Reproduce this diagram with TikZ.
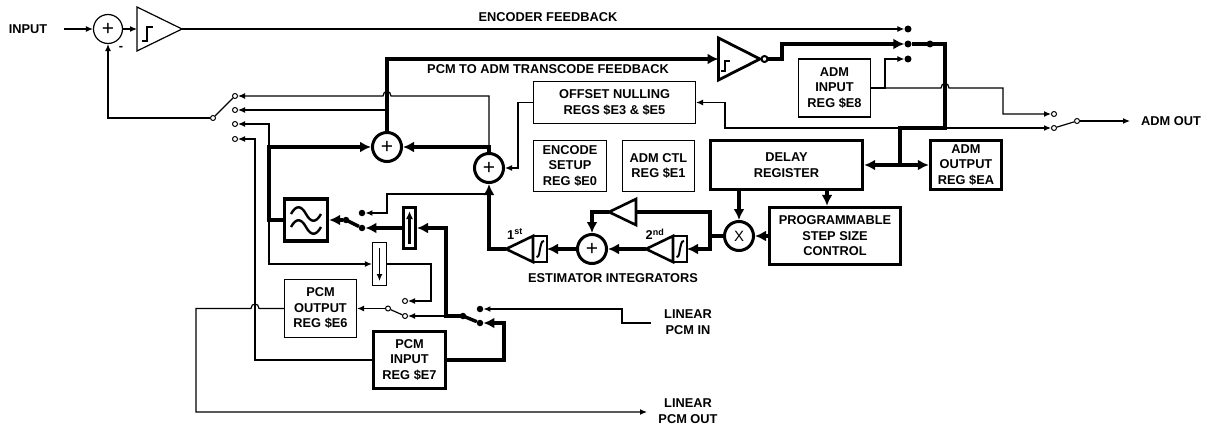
\documentclass[tikz,border=0pt]{standalone}
\usepackage{fontspec}
\setmainfont{Liberation Sans}
\usetikzlibrary{arrows.meta,calc}
\begin{document}
\begin{tikzpicture}[x=1pt,y=-1pt,
  font=\fontsize{12.8}{15.5}\selectfont\bfseries,
  wire/.style={line width=1.2pt},
  bus/.style={line width=3.4pt},
  tip/.style={-{Latex[length=7pt,width=6pt]}},
  btip/.style={-{Latex[length=11pt,width=11pt]}},
  reg/.style={draw,line width=1.2pt,align=center,inner sep=0pt},
  breg/.style={reg,line width=3.4pt},
  sumc/.style={circle,draw,line width=3pt,minimum size=29pt,inner sep=0pt,font=\fontsize{21}{21}\selectfont\mdseries},
  contact/.style={circle,draw,fill=white,line width=1pt,inner sep=0pt,minimum size=5pt},
  dot/.style={circle,fill,inner sep=0pt,minimum size=6.5pt},
  lbl/.style={align=center,inner sep=0pt},
  sym/.style={line width=2pt},
]
\useasboundingbox (0,0) rectangle (1211,428);

% ---------- registers and blocks
\node[reg,minimum width=162pt,minimum height=42pt] (OFF) at (614.5,102.5) {OFFSET NULLING\\REGS \$E3 \& \$E5};
\node[reg,minimum width=73pt,minimum height=51pt] (ENC) at (570,166) {ENCODE\\SETUP\\REG \$E0};
\node[reg,minimum width=72pt,minimum height=51pt] (CTL) at (658.5,166) {ADM CTL\\REG \$E1};
\node[reg,minimum width=72pt,minimum height=58pt] (AIN) at (834.5,88) {ADM\\INPUT\\REG \$E8};
\node[breg,minimum width=152pt,minimum height=49pt] (DLY) at (786.5,165) {DELAY\\REGISTER};
\node[breg,minimum width=71pt,minimum height=49pt] (AOUT) at (966,165) {ADM\\OUTPUT\\REG \$EA};
\node[breg,minimum width=131pt,minimum height=57pt] (PSS) at (835,236) {PROGRAMMABLE\\STEP SIZE\\CONTROL};
\node[reg,minimum width=72pt,minimum height=58pt] (POUT) at (320.5,308.5) {PCM\\OUTPUT\\REG \$E6};
\node[breg,minimum width=72pt,minimum height=57pt] (PIN) at (409.5,360) {PCM\\INPUT\\REG \$E7};
\node[breg,minimum width=43pt,minimum height=42pt] (FLT) at (306,220) {};
\node[breg,line width=3pt,minimum width=12pt,minimum height=41pt] (UP) at (409.5,228) {};
\node[reg,minimum width=14pt,minimum height=43pt] (DN) at (379.5,264) {};

% ---------- summing junctions
\node[sumc,line width=1.2pt] (S0) at (108,29) {+};
\node[sumc] (SU) at (387,147) {+};
\node[sumc] (SL) at (489,168) {+};
\node[sumc] (SM) at (592,249) {+};
\node[sumc,font=\fontsize{15}{15}\selectfont\mdseries] (MX) at (739,236) {X};

% ---------- amplifiers / integrators (drawn shapes)
\draw[wire] (137,7) -- (182,29) -- (137,51) -- cycle;
\draw[wire] (142,41) -- (147,41) -- (147,27) -- (153,27);
\coordinate (A0i) at (137,29);
\coordinate (A0o) at (182,29);

\draw[line width=2.8pt] (718.5,38) -- (760,59) -- (718.5,80) -- cycle;
\draw[sym] (721,71) -- (725,71) -- (725,61) -- (730,61);
\coordinate (CMPi) at (718.5,59);

\draw[line width=2.6pt] (533,236) -- (506,249) -- (533,262) -- cycle;
\draw[line width=2.6pt] (533,236) rectangle (547,262);
\draw[sym] (536.5,257) .. controls (539.5,258) and (539.5,250) .. (540,249) .. controls (540.5,248) and (541,240) .. (544,241);
\coordinate (I1i) at (547,249);
\coordinate (I1o) at (506,249);

\draw[line width=2.6pt] (673,236) -- (646,249) -- (673,262) -- cycle;
\draw[line width=2.6pt] (673,236) rectangle (687,262);
\draw[sym] (676.5,257) .. controls (679.5,258) and (679.5,250) .. (680,249) .. controls (680.5,248) and (681,240) .. (684,241);
\coordinate (I2i) at (687,249);
\coordinate (I2o) at (646,249);

\draw[line width=2.6pt] (636,199) -- (609,212) -- (636,225) -- cycle;
\coordinate (Gi) at (636,212);
\coordinate (Go) at (609,212);

% filter symbol and shift arrows
\draw[line width=2.4pt] (291,214) .. controls (296,205) and (301,205) .. (306,214) .. controls (311,223) and (316,223) .. (321,214);
\draw[line width=2.4pt] (291,227) .. controls (296,218) and (301,218) .. (306,227) .. controls (311,236) and (316,236) .. (321,227);
\draw[line width=2.4pt,-{Latex[length=8pt,width=7pt]}] (409.5,244) -- (409.5,211);
\draw[wire,tip] (379.5,248) -- (379.5,281);

% ---------- switch contacts
\node[contact] (LC1) at (235,96) {};
\node[contact] (LC2) at (235,110) {};
\node[contact] (LC3) at (235,124) {};
\node[contact] (LC4) at (235,139) {};
\node[contact] (LP) at (213,118) {};
\node[dot,minimum size=7pt] (TC1) at (908,29) {};
\node[dot,minimum size=7pt] (TC2) at (908,44) {};
\node[dot,minimum size=7pt] (TC3) at (908,59) {};
\node[dot,minimum size=7pt] (TP) at (930,44) {};
\node[contact] (AC1) at (1054,114) {};
\node[contact] (AC2) at (1054,128) {};
\node[contact] (AP) at (1077,121) {};
\node[dot] (FC1) at (362,213) {};
\node[dot] (FC2) at (362,228) {};
\node[dot] (FP) at (346,220) {};
\node[contact] (PC1) at (405,301) {};
\node[contact] (PC2) at (405,316) {};
\node[contact] (PP) at (388,308.5) {};
\node[dot] (IC1) at (480,309) {};
\node[dot] (IC2) at (480,323) {};
\node[dot] (IP) at (463,316) {};

% ---------- labels
\node[lbl] (tIN) at (28,29) {INPUT};
\node[lbl] (tMIN) at (121,48) {-};
\node[lbl] (tENC) at (548,17) {ENCODER FEEDBACK};
\node[lbl] (tPCM) at (548,69) {PCM TO ADM TRANSCODE FEEDBACK};
\node[lbl] (tADM) at (1171,121) {ADM OUT};
\node[lbl] (tEST) at (613,278) {ESTIMATOR INTEGRATORS};
\node[lbl] (tLIN) at (688,322) {LINEAR\\PCM IN};
\node[lbl] (tLOUT) at (688,411) {LINEAR\\PCM OUT};
\node[lbl] (t1) at (515,234) {1\textsuperscript{st}};
\node[lbl] (t2) at (655,234) {2\textsuperscript{nd}};

\coordinate (INa) at (64,29);
\coordinate (AOo) at (1130,121);
\coordinate (LINa) at (651,323);
\coordinate (LOUTa) at (647,412);
\coordinate (JB) at (900,165);
\coordinate (J8) at (885,88);

% ---------- encoder path
\draw[wire,tip] (INa) -- (S0);
\draw[wire,tip] (S0) -- (A0i);
\draw[wire,tip] (A0o) -- (TC1);
\draw[wire] (LC1) -- (LP);
\draw[wire,tip] (LP) -- (108,118) -- (S0);

% ---------- transcode feedback
\draw[bus,btip] (SU) -- (387,59) -- (CMPi);
\draw[bus,btip] (761,59) -- (782,59) -- (782,44) -- (TC2);
\node[circle,draw,fill=white,line width=2pt,inner sep=0pt,minimum size=6pt] (BUB) at (764.5,59) {};
\draw[bus] (TC2) -- (TP.center) -- (945,44) -- (945,128) -- (900,128) -- (JB);
\draw[bus,btip] (JB) -- (JB -| DLY.east);
\draw[bus,btip] (JB) -- (JB -| AOUT.west);

% ADM input register
\draw[wire,tip] (AIN.east) -- (J8) -- (885,59) -- (TC3);
\draw[wire,tip] (J8) -- (941,88) .. controls +(0,-6) and +(0,-6) .. (949,88) -- (1003,88) -- (1003,114) -- (AC1);
\draw[wire,tip] (945,128) -- (AC2);
\draw[wire] (AC2) -- (AP);
\draw[wire,tip] (AP) -- (AOo);

% offset nulling
\draw[wire,tip] (900,128) -- (725,128) |- (OFF.east);
\draw[wire,tip] (OFF.west) -- (518,102.5) |- (SL);

% summers and feedback selector
\draw[bus,btip] (SL) -- (489,147) -- (SU);
\draw[wire,tip] (489,147) -- (489,96) -- (391,96) .. controls +(0,-6) and +(0,-6) .. (383,96) -- (LC1);
\draw[wire,tip] (387,110) -- (LC2);
\draw[bus,btip] (FLT.west) -- (269,220) -- (269,147) -- (SU);
\draw[wire,tip] (269,147) -- (269,124) -- (LC3);
\draw[wire,tip] (269,220) -- (269,264) -- (DN);
\draw[wire,tip] (PIN.west) -- (255,360) -- (255,139) -- (LC4);

% filter switch
\draw[bus] (FC2) -- (FP.center);
\draw[bus,btip] (FP) -- (FLT);
\draw[wire,tip] (489,194) -- (387,194) -- (387,213) -- (FC1);
\draw[bus,btip] (UP) -- (FC2);

% PCM input switch
\draw[bus,btip] (IP.center) -- (446,316) -- (446,228) -- (UP);
\draw[bus] (IP.center) -- (IC2);
\draw[wire,tip] (LINa) -- (622,323) -- (622,309) -- (IC1);
\draw[bus,btip] (PIN.east) -- (504,360) -- (504,323) -- (IC2);

% PCM output switch
\draw[wire,tip] (DN.east) -- (431,264) -- (431,301) -- (PC1);
\draw[wire,tip] (446,316) -- (PC2);
\draw[wire] (PC2) -- (PP);
\draw[wire,tip] (PP) -- (POUT);
\draw[wire,tip] (POUT.west) -- (259,308.5) .. controls +(0,-6) and +(0,-6) .. (251,308.5) -- (196,308.5) -- (196,412) -- (LOUTa);

% estimator integrators
\draw[bus,btip] (I1o) -- (489,249) -- (SL);
\draw[bus,btip] (SM) -- (I1i);
\draw[bus,btip] (I2o) -- (SM);
\draw[bus,btip] (Go) -- (592,212) -- (SM);
\draw[bus,btip] (Gi) -- (710,212) -- (710,249) -- (I2i);
\draw[bus] (MX) -- (710,236);
\draw[bus,btip] (DLY.south -| MX) -- (MX);
\draw[bus,btip] (DLY.south -| 827,0) -- (PSS.north -| 827,0);
\draw[bus,btip] (PSS) -- (MX);
\end{tikzpicture}
\end{document}
